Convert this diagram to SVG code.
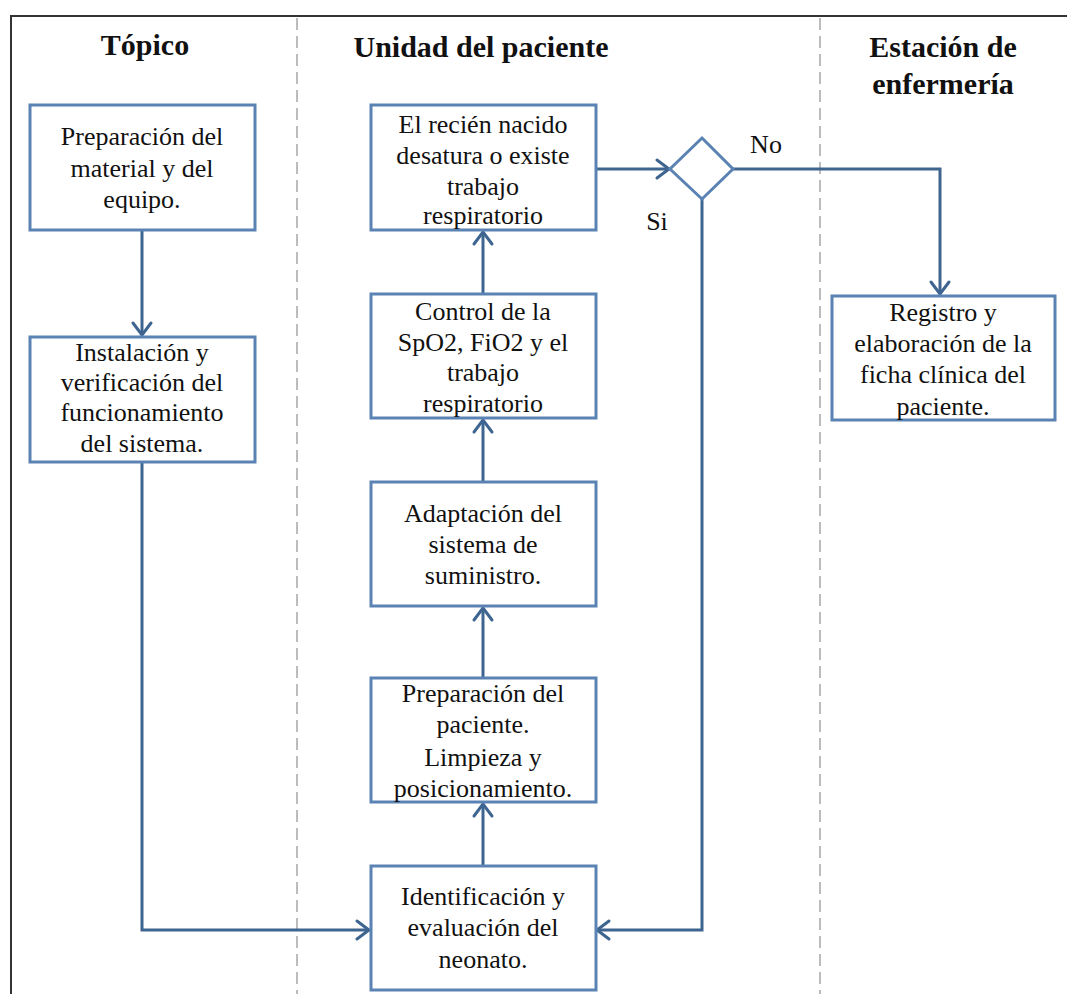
<svg xmlns="http://www.w3.org/2000/svg" width="1067" height="994" viewBox="0 0 1067 994">
<defs>
<style>
.box{fill:#fff;stroke:#5a83b4;stroke-width:3}
text{font-family:'Liberation Serif','Times New Roman',Times,'DejaVu Serif',serif;fill:#111;text-anchor:middle}
.t{font-size:26px}
.h{font-size:30px;font-weight:bold}
.c{fill:none;stroke:#3e6590;stroke-width:3}
.lane{stroke:#999;stroke-width:1.3;stroke-dasharray:12,6}
</style>
<marker id="a" markerUnits="userSpaceOnUse" markerWidth="24" markerHeight="24" refX="20" refY="12" orient="auto" viewBox="0 0 24 24">
<path d="M8,3 L20,12 L8,21" fill="none" stroke="#3e6590" stroke-width="3" stroke-linecap="round"/>
</marker>
</defs>
<rect width="1067" height="994" fill="#fff"/>
<g id="frame">
<path d="M11,994 V16 H1067" fill="none" stroke="#333" stroke-width="2"/>
<line class="lane" x1="297" y1="18" x2="297" y2="994"/>
<line class="lane" x1="820" y1="18" x2="820" y2="994"/>
</g>
<g id="headers">
<text class="h" x="145" y="55">Tópico</text>
<text class="h" x="481" y="57">Unidad  del paciente</text>
<text class="h" x="943" y="57">Estación de</text>
<text class="h" x="943" y="94">enfermería</text>
</g>
<g id="connectors">
<line class="c" x1="142" y1="231" x2="142" y2="335" marker-end="url(#a)"/>
<polyline class="c" points="142,463 142,930 369,930" marker-end="url(#a)"/>
<line class="c" x1="483" y1="865" x2="483" y2="804" marker-end="url(#a)"/>
<line class="c" x1="483" y1="677" x2="483" y2="608" marker-end="url(#a)"/>
<line class="c" x1="483" y1="481" x2="483" y2="420" marker-end="url(#a)"/>
<line class="c" x1="483" y1="293" x2="483" y2="232" marker-end="url(#a)"/>
<line class="c" x1="596" y1="169" x2="669" y2="169" marker-end="url(#a)"/>
<polyline class="c" points="733,169 940,169 940,294" marker-end="url(#a)"/>
<polyline class="c" points="702,199 702,930 597,930" marker-end="url(#a)"/>
<text class="t" x="766" y="153">No</text>
<text class="t" x="657" y="230">Si</text>
</g>
<g id="decision">
<polygon points="702,138 733,169 702,199 670,169" fill="#fff" stroke="#5a83b4" stroke-width="3"/>
</g>
<g id="n1">
<rect class="box" x="30" y="105" width="225" height="125"/>
<text class="t" x="142" y="145">Preparación del</text>
<text class="t" x="142" y="177">material y del</text>
<text class="t" x="142" y="208">equipo.</text>
</g>
<g id="n2">
<rect class="box" x="30" y="337" width="225" height="125"/>
<text class="t" x="142" y="361">Instalación y</text>
<text class="t" x="142" y="391">verificación del</text>
<text class="t" x="142" y="421">funcionamiento</text>
<text class="t" x="142" y="452">del sistema.</text>
</g>
<g id="n3">
<rect class="box" x="371" y="105" width="225" height="125"/>
<text class="t" x="483" y="133">El recién nacido</text>
<text class="t" x="483" y="164">desatura o existe</text>
<text class="t" x="483" y="195">trabajo</text>
<text class="t" x="483" y="224">respiratorio</text>
</g>
<g id="n4">
<rect class="box" x="371" y="294" width="225" height="124"/>
<text class="t" x="483" y="320">Control de la</text>
<text class="t" x="483" y="351">SpO2, FiO2 y el</text>
<text class="t" x="483" y="381">trabajo</text>
<text class="t" x="483" y="412">respiratorio</text>
</g>
<g id="n5">
<rect class="box" x="371" y="482" width="225" height="124"/>
<text class="t" x="483" y="522">Adaptación del</text>
<text class="t" x="483" y="553">sistema de</text>
<text class="t" x="483" y="584">suministro.</text>
</g>
<g id="n6">
<rect class="box" x="371" y="678" width="225" height="124"/>
<text class="t" x="483" y="702">Preparación del</text>
<text class="t" x="483" y="733">paciente.</text>
<text class="t" x="483" y="766">Limpieza y</text>
<text class="t" x="483" y="797">posicionamiento.</text>
</g>
<g id="n7">
<rect class="box" x="371" y="866" width="225" height="124"/>
<text class="t" x="483" y="905">Identificación y</text>
<text class="t" x="483" y="936">evaluación del</text>
<text class="t" x="483" y="968">neonato.</text>
</g>
<g id="n8">
<rect class="box" x="832" y="296" width="223" height="124"/>
<text class="t" x="943" y="321">Registro y</text>
<text class="t" x="943" y="352">elaboración de la</text>
<text class="t" x="943" y="383">ficha clínica del</text>
<text class="t" x="943" y="415">paciente.</text>
</g>
</svg>
